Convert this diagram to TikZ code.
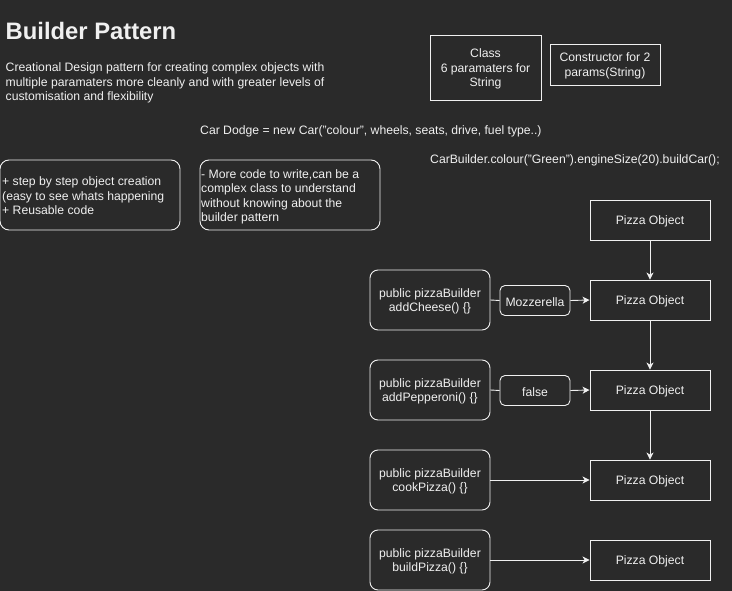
\documentclass[tikz,border=0pt]{standalone}
\usepackage{fontspec}
\setmainfont{Liberation Sans}
\usetikzlibrary{arrows.meta}
\definecolor{bg}{HTML}{2A2A2A}
\definecolor{fg}{HTML}{F0F0F0}
\newcommand{\lowr}{\rule{0pt}{12pt}}
\begin{document}
\begin{tikzpicture}[x=1pt,y=-1pt,
  every node/.style={text=fg,font=\fontsize{12.2}{14.5}\selectfont,inner sep=0pt},
  rbox/.style={draw=fg,line width=0.9pt,rounded corners=8pt,align=center},
  pbox/.style={draw=fg,line width=0.9pt,minimum width=120pt,minimum height=40pt},
  conn/.style={draw=fg,line width=0.9pt},
  arr/.style={conn,-{Stealth[length=7pt,width=7pt,inset=2pt]}}]
\fill[bg] (0,0) rectangle (732,591);
\useasboundingbox (0,0) rectangle (732,591);
% title & description
\node[anchor=base west,font=\bfseries\fontsize{23.8}{28}\selectfont] (title) at (5.5,40) {Builder Pattern};
\node[anchor=north west,align=left] (desc) at (5.5,62.5) {Creational Design pattern for creating complex objects with\\multiple paramaters more cleanly and with greater levels of\\customisation and flexibility};
% class boxes
\node[draw=fg,line width=0.9pt,minimum width=111pt,minimum height=65pt,align=center] (cls) at (485.5,67.5) {\lowr Class\\6 paramaters for\\String};
\node[draw=fg,line width=0.9pt,minimum width=110pt,minimum height=41pt,align=center] (ctor) at (605,64.5) {\lowr Constructor for 2\\params(String)};
% code lines
\node[anchor=west] (dodge) at (200,131.5) {Car Dodge = new Car("colour", wheels, seats, drive, fuel type..)};
\node[anchor=west] (cb) at (430,160.5) {CarBuilder.colour("Green").engineSize(20).buildCar();};
% pros / cons
\draw[conn,rounded corners=9pt] (0,160) rectangle (180,230);
\node[anchor=west,align=left] (pros) at (2,196) {+ step by step object creation\\(easy to see whats happening\\+ Reusable code};
\draw[conn,rounded corners=9pt] (200,160) rectangle (380,230);
\node[anchor=west,align=left] (cons) at (201,197) {- More code to write,can be a\\complex class to understand\\without knowing about the\\builder pattern};
% pizza objects
\node[pbox] (p1) at (650,220) {\lowr Pizza Object};
\node[pbox] (p2) at (650,300) {\lowr Pizza Object};
\node[pbox] (p3) at (650,390) {\lowr Pizza Object};
\node[pbox] (p4) at (650,480) {\lowr Pizza Object};
\node[pbox] (p5) at (650,560) {\lowr Pizza Object};
% builders
\node[rbox,minimum width=120pt,minimum height=60pt] (b1) at (430,300) {\lowr public pizzaBuilder\\addCheese() \{\}};
\node[rbox,minimum width=120pt,minimum height=60pt] (b2) at (430,390) {\lowr public pizzaBuilder\\addPepperoni() \{\}};
\node[rbox,minimum width=120pt,minimum height=60pt] (b3) at (430,480) {\lowr public pizzaBuilder\\cookPizza() \{\}};
\node[rbox,minimum width=120pt,minimum height=60pt] (b4) at (430,560) {\lowr public pizzaBuilder\\buildPizza() \{\}};
% parameters
\node[rbox,rounded corners=5pt,minimum width=70pt,minimum height=30pt] (moz) at (535,300.5) {\lowr Mozzerella};
\node[rbox,rounded corners=5pt,minimum width=70pt,minimum height=30pt] (fal) at (535,390.5) {\lowr false};
% connectors
\draw[arr] (p1) -- (p2);
\draw[arr] (p2) -- (p3);
\draw[arr] (p3) -- (p4);
\draw[conn] (b1.east) -- (moz.west);
\draw[arr] (moz.east) -- (p2.west);
\draw[conn] (b2.east) -- (fal.west);
\draw[arr] (fal.east) -- (p3.west);
\draw[arr] (b3) -- (p4);
\draw[arr] (b4) -- (p5);
\end{tikzpicture}
\end{document}
